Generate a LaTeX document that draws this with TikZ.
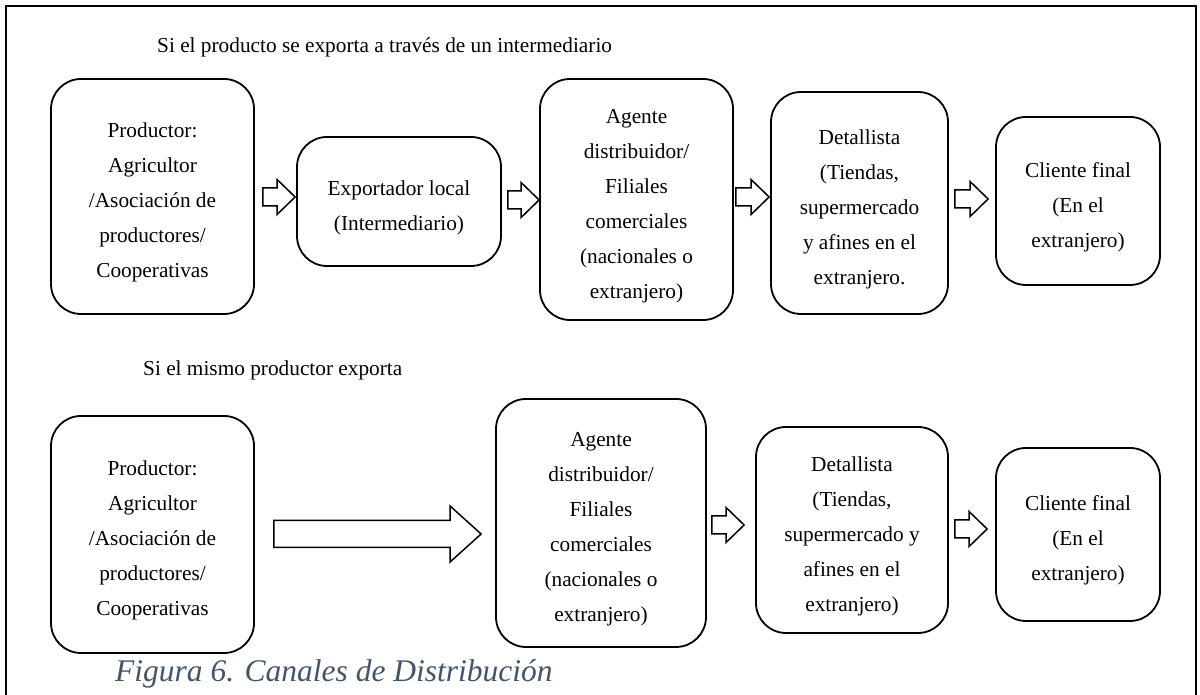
\documentclass[tikz,border=0pt]{standalone}
\usepackage{fontspec}
\setmainfont{Liberation Serif}
\usetikzlibrary{calc}
\definecolor{capblue}{HTML}{44546A}
\newcommand\topgap{\rule{0pt}{27pt}}
\tikzset{
  boxnode/.style={draw, line width=1.8pt, rounded corners=30pt, align=center, inner sep=0pt,
    font=\fontsize{21.3}{35}\selectfont},
  barrowline/.style={draw, line width=1.5pt, fill=white, line join=miter},
  ttl/.style={anchor=base west, inner sep=0pt, font=\fontsize{21.3}{26}\selectfont},
  capt/.style={anchor=base west, inner sep=0pt, text=capblue, font=\fontsize{31.5}{36}\selectfont\itshape},
  frameline/.style={line width=2.6pt}
}
% block arrow: #1 from node, #2 to node, #3 tip y, #4 start gap, #5 end gap, #6 body half, #7 head half, #8 head length
\newcommand\blockarrow[8]{%
  \draw[barrowline] let \p1=(#1.east), \p2=(#2.west) in
    (\x1+#4, #3+#6) -- (\x2-#5-#8, #3+#6) -- (\x2-#5-#8, #3+#7) -- (\x2-#5, #3)
    -- (\x2-#5-#8, #3-#7) -- (\x2-#5-#8, #3-#6) -- (\x1+#4, #3-#6) -- cycle;}
\begin{document}
\begin{tikzpicture}[x=1pt,y=1pt]
\useasboundingbox (0,0) rectangle (1200,695);
% frame (open at the bottom)
\draw[frameline] (6,0) -- (6,689) -- (1196,689) -- (1196,0);

% titles
\node[ttl] (t1) at (157,642) {Si el producto se exporta a través de un intermediario};
\node[ttl] (t2) at (143,319) {Si el mismo productor exporta};

% top row
\node[boxnode, minimum width=203, minimum height=235] (p1) at (152.5,498.5)
  {\topgap Productor:\\Agricultor\\/Asociación de\\productores/\\Cooperativas};
\node[boxnode, minimum width=204, minimum height=129] (e2) at (399,493.5)
  {\topgap Exportador local\\(Intermediario)};
\node[boxnode, minimum width=193, minimum height=241] (a3) at (636.5,495.5)
  {\topgap Agente\\distribuidor/\\Filiales\\comerciales\\(nacionales o\\extranjero)};
\node[boxnode, minimum width=177, minimum height=222] (d4) at (859.5,492)
  {\topgap Detallista\\(Tiendas,\\supermercado\\y afines en el\\extranjero.};
\node[boxnode, minimum width=164, minimum height=168] (c5) at (1078,494)
  {\topgap Cliente final\\(En el\\extranjero)};

\blockarrow{p1}{e2}{498}{8}{1}{9}{17.5}{18}
\blockarrow{e2}{a3}{495}{6}{0}{9}{17.5}{18}
\blockarrow{a3}{d4}{498}{2}{1}{9}{17.5}{18}
\blockarrow{d4}{c5}{496}{6}{7}{9}{17.5}{18}

% bottom row
\node[boxnode, minimum width=203, minimum height=237] (p1b) at (152.5,160.5)
  {\topgap Productor:\\Agricultor\\/Asociación de\\productores/\\Cooperativas};
\node[boxnode, minimum width=210, minimum height=248] (a2b) at (601,172)
  {\topgap Agente\\distribuidor/\\Filiales\\comerciales\\(nacionales o\\extranjero)};
\node[boxnode, minimum width=192, minimum height=206] (d3b) at (852,165)
  {\topgap Detallista\\(Tiendas,\\supermercado y\\afines en el\\extranjero)};
\node[boxnode, minimum width=164, minimum height=173] (c4b) at (1078,160.5)
  {\topgap Cliente final\\(En el\\extranjero)};

\blockarrow{p1b}{a2b}{161}{19}{14}{13.5}{28}{31}
\blockarrow{a2b}{d3b}{170}{5}{11}{9}{17.5}{18}
\blockarrow{d3b}{c4b}{166}{6}{8}{9}{17.5}{18}

% caption
\node[capt] (cap) at (115,13) {Figura 6. Canales de Distribución};
\end{tikzpicture}
\end{document}
